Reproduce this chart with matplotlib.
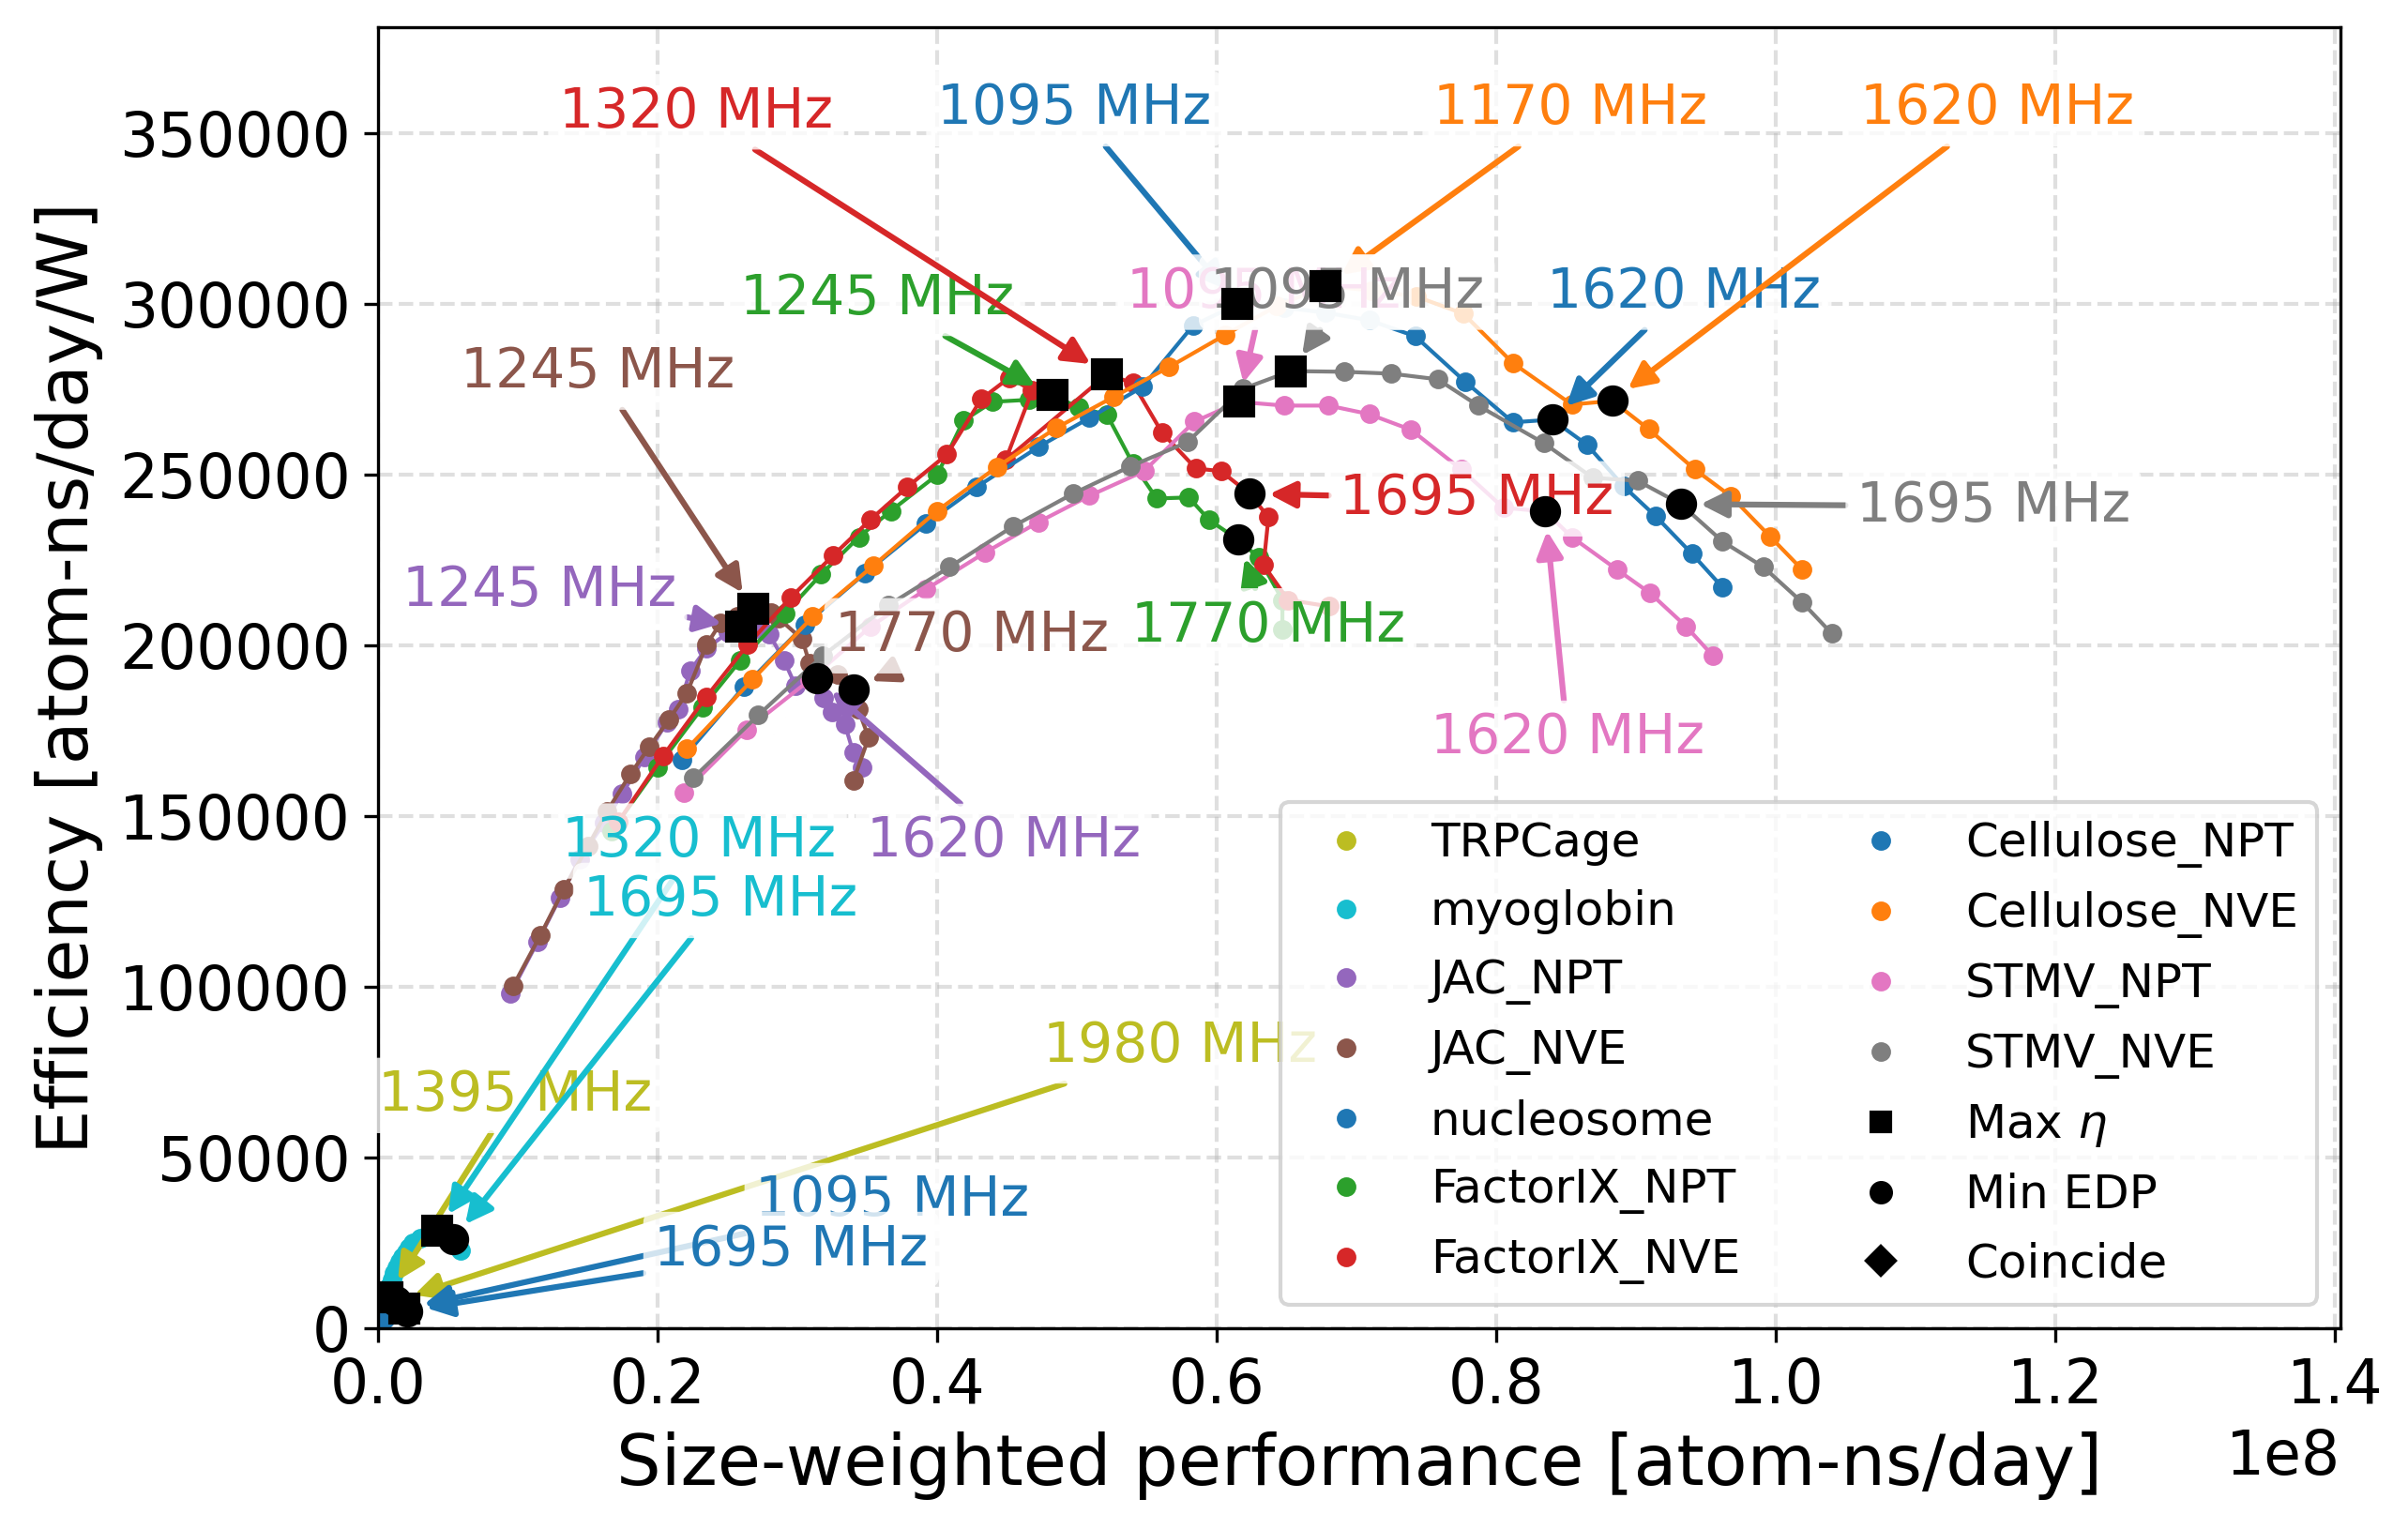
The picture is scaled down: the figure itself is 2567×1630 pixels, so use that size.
import numpy as np
import matplotlib
matplotlib.use("Agg")
import matplotlib.pyplot as plt
from matplotlib.lines import Line2D

# GPU clock steps (MHz)
freqs = [345 + 75 * i for i in range(22)] + [1980]

# size-weighted performance in units of 1e8 atom-ns/day, efficiency in atom-ns/day/W
trpcage_x = [0.0020, 0.0024, 0.0028, 0.0032, 0.0036, 0.0040, 0.0044, 0.0048, 0.0052, 0.0055, 0.0058,
             0.0061, 0.0063, 0.0065, 0.0067, 0.0070, 0.0074, 0.0079, 0.0085, 0.0092, 0.0100, 0.0110, 0.0125]
trpcage_y = [4200, 4800, 5400, 6000, 6500, 7000, 7400, 7800, 8100, 8400, 8600,
             8800, 9000, 9150, 9300, 9200, 9100, 8950, 8800, 8650, 8500, 8300, 8100]

myoglobin_x = [0.0045, 0.0062, 0.0080, 0.0098, 0.0117, 0.0136, 0.0156, 0.0177, 0.0199, 0.0223, 0.0250,
               0.0300, 0.0360, 0.0423, 0.0460, 0.0490, 0.0510, 0.0525, 0.0537, 0.0550, 0.0563, 0.0576, 0.0590]
myoglobin_y = [8500, 10500, 12500, 14400, 16200, 17900, 19500, 21000, 22400, 23700, 25000,
               26600, 28000, 28800, 28400, 27900, 27300, 26700, 26100, 25300, 24500, 23800, 23000]

jac_npt_x = [0.0946, 0.114, 0.130, 0.144, 0.162, 0.1745, 0.1906, 0.2067, 0.2148, 0.2235, 0.235, 0.2503,
             0.2597, 0.271, 0.280, 0.2906, 0.2987, 0.314, 0.319, 0.325, 0.334, 0.340, 0.346]
jac_npt_y = [98100, 113200, 126100, 137400, 148300, 156600, 167300, 177500, 181300, 192800, 199200, 203800,
             205500, 205000, 203300, 195600, 188200, 190400, 184600, 180500, 176900, 168700, 164500]

jac_nve_x = [0.0966, 0.116, 0.133, 0.150, 0.164, 0.1805, 0.194, 0.208, 0.2208, 0.235, 0.245, 0.257,
             0.2685, 0.275, 0.281, 0.2866, 0.3034, 0.3087, 0.3289, 0.340, 0.3436, 0.351, 0.340]
jac_nve_y = [100300, 115100, 128800, 141200, 151600, 162400, 170300, 178300, 186000, 200300, 206600, 208500,
             210700, 210300, 209800, 208000, 201900, 194800, 191500, 187300, 181300, 173100, 160400]

nucleosome_x = [0.0040, 0.0050, 0.0060, 0.0070, 0.0080, 0.0090, 0.0100, 0.0110, 0.0120, 0.0130, 0.0190,
                0.0150, 0.0160, 0.0168, 0.0176, 0.0184, 0.0191, 0.0198, 0.0205, 0.0211, 0.0216, 0.0220, 0.0224]
nucleosome_y = [2500, 2900, 3300, 3700, 4100, 4500, 4900, 5200, 5400, 5600, 5800,
                5700, 5650, 5600, 5550, 5450, 5350, 5300, 5200, 5050, 4900, 4750, 4600]

fix_npt_x = [0.167, 0.200, 0.232, 0.259, 0.291, 0.317, 0.344, 0.367, 0.400, 0.4188, 0.4396, 0.4658,
             0.4825, 0.501, 0.5215, 0.540, 0.557, 0.580, 0.5946, 0.6154, 0.630, 0.647, 0.647]
fix_npt_y = [145600, 164500, 181900, 195600, 209300, 220900, 231800, 239500, 250000, 265900, 271400, 272000,
             273300, 269800, 267600, 253300, 243100, 243400, 236800, 231000, 225800, 213400, 204700]

fix_nve_x = [0.172, 0.204, 0.235, 0.2644, 0.295, 0.3255, 0.352, 0.3785, 0.407, 0.4315, 0.4517, 0.468,
             0.449, 0.5215, 0.540, 0.561, 0.585, 0.603, 0.6235, 0.637, 0.6335, 0.651, 0.6805]
fix_nve_y = [148500, 167800, 185100, 200300, 214000, 226400, 236800, 246400, 256000, 272200, 278500, 274700,
             254400, 279400, 276900, 262300, 251900, 251100, 244500, 237600, 223600, 213400, 211500]

cel_npt_x = [0.2174, 0.2617, 0.305, 0.348, 0.392, 0.428, 0.4725, 0.509, 0.547, 0.583, 0.615, 0.648,
             0.678, 0.709, 0.742, 0.778, 0.812, 0.840, 0.865, 0.891, 0.914, 0.940, 0.962]
cel_npt_y = [166700, 187900, 206000, 221100, 235700, 246400, 258200, 266700, 275800, 293700, 300000, 299000,
             297500, 295300, 290600, 277200, 265400, 266200, 258800, 246700, 237900, 226900, 217000]

cel_nve_x = [0.221, 0.268, 0.311, 0.354, 0.400, 0.443, 0.485, 0.526, 0.566, 0.606, 0.643, 0.678,
             0.711, 0.743, 0.7765, 0.812, 0.854, 0.883, 0.909, 0.942, 0.968, 0.996, 1.019]
cel_nve_y = [169800, 190100, 208500, 223300, 239500, 252400, 263700, 272800, 281600, 291000, 299500, 305300,
             304000, 302200, 297200, 282700, 270600, 271700, 263400, 251600, 243700, 231900, 222200]

stmv_npt_x = [0.219, 0.264, 0.309, 0.352, 0.392, 0.434, 0.4725, 0.509, 0.548, 0.584, 0.616, 0.648,
              0.680, 0.709, 0.739, 0.775, 0.805, 0.835, 0.854, 0.8866, 0.910, 0.9356, 0.955]
stmv_npt_y = [157100, 175500, 190000, 205500, 216500, 227200, 236200, 243900, 251100, 265600, 271400, 270300,
              270300, 267800, 263200, 251600, 240400, 239300, 231800, 222200, 215400, 205700, 197000]

stmv_nve_x = [0.2255, 0.272, 0.318, 0.365, 0.409, 0.454, 0.497, 0.538, 0.579, 0.619, 0.653, 0.691,
              0.725, 0.758, 0.787, 0.834, 0.869, 0.901, 0.932, 0.962, 0.991, 1.019, 1.040]
stmv_nve_y = [161250, 179650, 197000, 211800, 223060, 234870, 244480, 252450, 259590, 275250, 280400, 280200,
              279650, 278000, 270300, 259300, 249160, 248300, 241460, 230470, 223060, 212620, 203550]

names = ["TRPCage", "myoglobin", "JAC_NPT", "JAC_NVE", "nucleosome", "FactorIX_NPT",
         "FactorIX_NVE", "Cellulose_NPT", "Cellulose_NVE", "STMV_NPT", "STMV_NVE"]
xs = [trpcage_x, myoglobin_x, jac_npt_x, jac_nve_x, nucleosome_x, fix_npt_x,
      fix_nve_x, cel_npt_x, cel_nve_x, stmv_npt_x, stmv_nve_x]
ys = [trpcage_y, myoglobin_y, jac_npt_y, jac_nve_y, nucleosome_y, fix_npt_y,
      fix_nve_y, cel_npt_y, cel_nve_y, stmv_npt_y, stmv_nve_y]
max_eta_mhz = [1395, 1320, 1245, 1245, 1095, 1245, 1320, 1095, 1170, 1095, 1095]
min_edp_mhz = [1980, 1695, 1620, 1770, 1695, 1770, 1695, 1620, 1620, 1620, 1695]

colors = ["#bcbd22", "#17becf", "#9467bd", "#8c564b", "#1f77b4", "#2ca02c",
          "#d62728", "#1f77b4", "#ff7f0e", "#e377c2", "#7f7f7f"]

# where the frequency labels sit (data coords, x in 1e8)
max_label_pos = [(0.098, 68300), (0.2295, 142800), (0.1152, 216100), (0.157, 280100), (0.368, 37500),
                 (0.357, 301700), (0.2275, 356300), (0.498, 357200), (0.853, 357200),
                 (0.6335, 303500), (0.693, 303500)]
min_label_pos = [(0.574, 82800), (0.2453, 125400), (0.4475, 142700), (0.425, 202900), (0.2956, 23200),
                 (0.637, 205800), (0.786, 243000), (0.934, 303500), (1.158, 357200),
                 (0.851, 172900), (1.1557, 240800)]

plt.rcParams["font.family"] = ["DejaVu Sans"]

fig, ax = plt.subplots(figsize=(2567 / 300, 1630 / 300), dpi=300)
fig.subplots_adjust(left=0.157, right=0.972, top=0.982, bottom=0.131)

ax.grid(True, linestyle="--", color="#b0b0b0", alpha=0.4, linewidth=1.0)
ax.set_axisbelow(True)

SCALE = 1e8
for name, x, y, c in zip(names, xs, ys, colors):
    ax.plot(np.array(x) * SCALE, y, "-o", color=c, ms=4, lw=1.0, zorder=2)

txt_kw = dict(fontsize=14, ha="center", va="center",
              bbox=dict(boxstyle="round,pad=0.2", fc="white", ec="none", alpha=0.8))
for i, (x, y, c) in enumerate(zip(xs, ys, colors)):
    for f, pos in ((max_eta_mhz[i], max_label_pos[i]), (min_edp_mhz[i], min_label_pos[i])):
        k = freqs.index(f)
        ax.annotate(f"{f} MHz", xy=(x[k] * SCALE, y[k]), xytext=(pos[0] * SCALE, pos[1]),
                    color=c, zorder=3,
                    arrowprops=dict(arrowstyle="-|>", color=c, lw=1.5, shrinkA=0, shrinkB=5),
                    **txt_kw)

for i, (x, y) in enumerate(zip(xs, ys)):
    k1 = freqs.index(max_eta_mhz[i])
    k2 = freqs.index(min_edp_mhz[i])
    ax.plot(x[k1] * SCALE, y[k1], "s", color="k", ms=7, zorder=5)
    ax.plot(x[k2] * SCALE, y[k2], "o", color="k", ms=7, zorder=5)

ax.set_xlim(0, 1.404e8)
ax.set_ylim(0, 381000)
ax.tick_params(labelsize=15.5)
ax.xaxis.get_offset_text().set_fontsize(15.5)
ax.set_xlabel("Size-weighted performance [atom-ns/day]", fontsize=18)
ax.set_ylabel("Efficiency [atom-ns/day/W]", fontsize=18)

handles = [Line2D([], [], marker="o", ls="", color=c, ms=4) for c in colors]
handles += [Line2D([], [], marker="s", ls="", color="k", ms=5),
            Line2D([], [], marker="o", ls="", color="k", ms=5),
            Line2D([], [], marker="D", ls="", color="k", ms=5)]
labels = names + [r"Max $\eta$", "Min EDP", "Coincide"]
leg = ax.legend(handles, labels, ncol=2, loc="lower right", fontsize=12)
leg.set_zorder(6)

fig.savefig("out.png", dpi=300)
